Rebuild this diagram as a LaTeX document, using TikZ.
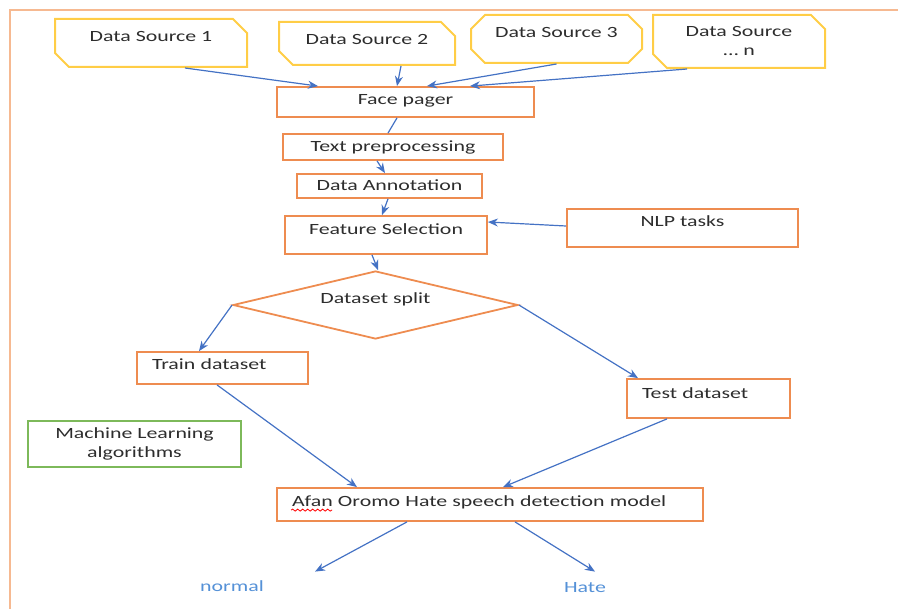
\documentclass[tikz,border=0pt]{standalone}
\usepackage{fontspec}
\setmainfont[FakeStretch=1.4]{Carlito}
\usepackage{xcolor}
\usepackage{tikz}
\usetikzlibrary{arrows.meta,shapes.misc,shapes.geometric,decorations.pathmorphing}
\definecolor{boxorange}{RGB}{238,140,80}
\definecolor{framepeach}{RGB}{246,185,145}
\definecolor{srcyellow}{RGB}{255,205,70}
\definecolor{mlgreen}{RGB}{125,185,90}
\definecolor{arrowblue}{RGB}{68,114,196}
\definecolor{outblue}{RGB}{85,145,215}
\definecolor{textgray}{RGB}{45,45,45}
\begin{document}
\begin{tikzpicture}[x=0.5pt, y=-0.5pt,
  every node/.style={font=\fontsize{7.8}{9.5}\selectfont, text=textgray, text height=6pt, text depth=1.5pt},
  src/.style={chamfered rectangle, chamfered rectangle xsep=4pt, chamfered rectangle ysep=3pt, draw=srcyellow, line width=1pt, inner sep=0pt, align=center},
  proc/.style={rectangle, draw=boxorange, line width=0.9pt, inner sep=0pt, align=center},
  lproc/.style={proc, align=left, inner xsep=7.5pt, text width=#1},
  lift/.style={text depth=#1},
  multi/.style={text height=, text depth=},
  arr/.style={-{Stealth[length=5pt,width=4pt]}, draw=arrowblue, line width=0.6pt},
  link/.style={draw=arrowblue, line width=0.6pt},
  outlab/.style={text=outblue, inner sep=1pt},
  frame/.style={draw=framepeach, line width=1.3pt},
  spell/.style={draw=red, line width=0.4pt, decorate, decoration={snake, amplitude=0.5pt, segment length=2.5pt}}
]
\useasboundingbox (0,0) rectangle (898,609);
\draw[frame] (10,609) -- (10,10) -- (898,10);
\node[src, minimum width=96pt, minimum height=24pt, lift=7.5pt, chamfered rectangle corners={north east,south west}] (ds1) at (151,43) {Data Source 1};
\node[src, minimum width=88pt, minimum height=21.5pt, lift=5pt, chamfered rectangle corners={north east,south west}] (ds2) at (367,43.5) {Data Source 2};
\node[src, minimum width=85.5pt, minimum height=24pt, lift=7.5pt] (ds3) at (556.5,39) {Data Source 3};
\node[src, multi, minimum width=86pt, minimum height=26.5pt, chamfered rectangle corners={north east,south west}] (dsn) at (739,41.5) {Data Source\\\ldots\ n};
\node[proc, minimum width=128.5pt, minimum height=15pt, lift=3.5pt] (face) at (405.5,102) {Face pager};
\node[proc, minimum width=110pt, minimum height=13pt] (prep) at (393,147) {Text preprocessing};
\node[proc, minimum width=92.5pt, minimum height=12pt] (annot) at (389.5,186) {Data Annotation};
\node[proc, minimum width=101pt, minimum height=19pt, lift=6.5pt] (feat) at (386,235) {Feature Selection};
\node[proc, minimum width=115.5pt, minimum height=19pt, lift=7.5pt] (nlp) at (682.5,228) {NLP tasks};
\node[diamond, aspect=4.2, draw=boxorange, line width=0.9pt, inner sep=0pt, minimum width=142.5pt, minimum height=34pt, lift=7.5pt] (split) at (375.5,305) {Dataset split};
\node[lproc=70.5pt, minimum width=85.5pt, minimum height=16pt, lift=4.5pt] (train) at (222.5,368) {Train dataset};
\node[lproc=66.5pt, minimum width=81.5pt, minimum height=19.5pt, lift=6.5pt] (test) at (708.5,398.5) {Test dataset};
\node[proc, multi, draw=mlgreen, minimum width=106.5pt, minimum height=23pt] (ml) at (134.5,444) {Machine Learning\\algorithms};
\node[lproc=198pt, minimum width=213pt, minimum height=16.5pt, lift=4pt] (model) at (490,504.5) {Afan Oromo Hate speech detection model};
\node[outlab] (normal) at (232,587) {normal};
\node[outlab] (hate) at (585,588) {Hate};
\draw[spell] ([xshift=7.5pt,yshift=-1.8pt]model.base west) -- ++(20.5pt,0pt);
\draw[arr] ([xshift=17pt]ds1.south) -- ([xshift=-43.75pt]face.north);
\draw[arr] ([xshift=17pt]ds2.south) -- ([xshift=-4.25pt]face.north);
\draw[arr] (ds3.south) -- ([xshift=10.75pt]face.north);
\draw[arr] ([xshift=-26pt]dsn.south) -- ([xshift=32.25pt]face.north);
\draw[link] ([xshift=-4.25pt]face.south) -- ([xshift=-2.5pt]prep.north);
\draw[arr] ([xshift=-8pt]prep.south) -- ([xshift=-2.25pt]annot.north);
\draw[arr] ([xshift=-0.75pt]annot.south) -- ([xshift=-2pt]feat.north);
\draw[arr] ([yshift=1pt]nlp.west) -- ([yshift=6.5pt]feat.east);
\draw[arr] ([xshift=-7pt]feat.south) -- ([xshift=1.25pt]split.north);
\draw[arr] (split.west) -- ([xshift=-11.75pt]train.north);
\draw[arr] (split.east) -- ([xshift=-35.25pt]test.north);
\draw[arr] ([xshift=-2.75pt]train.south) -- ([xshift=-66.5pt]model.north);
\draw[arr] ([xshift=-20.75pt]test.south) -- ([xshift=6.5pt]model.north);
\draw[arr] ([xshift=-41.5pt]model.south) -- ([xshift=41.5pt,yshift=2.75pt]normal.north);
\draw[arr] ([xshift=12.5pt]model.south) -- ([xshift=5pt,yshift=3.25pt]hate.north);
\end{tikzpicture}
\end{document}
